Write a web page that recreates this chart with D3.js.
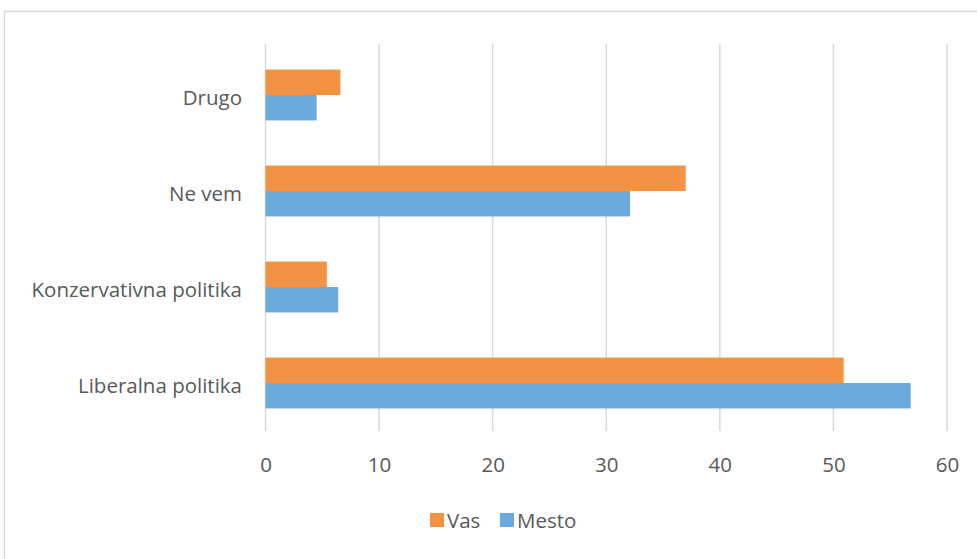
<!DOCTYPE html>
<html><head><meta charset="utf-8">
<script src="https://cdn.jsdelivr.net/npm/d3@7"></script>
<style>body{margin:0;background:#fff}svg{display:block}</style>
</head><body>
<script>
const categories = ["Drugo", "Ne vem", "Konzervativna politika", "Liberalna politika"];
const seriesNames = ["Vas", "Mesto"];
const vasValues = [6.6, 37, 5.4, 50.9];
const mestoValues = [4.5, 32.1, 6.4, 56.8];
const xTicks = [0, 10, 20, 30, 40, 50, 60];
const colors = {Vas: "#F39242", Mesto: "#6AAADC"};

const W = 977, H = 559;
const svg = d3.select("body").append("svg").attr("width", W).attr("height", H);
const font = "'Open Sans', sans-serif";
const fs = 20.5;

svg.append("rect").attr("x", 4.5).attr("y", 11.5).attr("width", W + 10).attr("height", H + 10)
  .attr("fill", "#fff").attr("stroke", "#d9d9d9").attr("stroke-width", 1.5);

const x = d3.scaleLinear().domain([0, 60]).range([265.5, 947]);
const y = d3.scaleBand().domain(categories).range([47, 431]).paddingInner(0.47).paddingOuter(0.235);
const ys = d3.scaleBand().domain(seriesNames).range([0, y.bandwidth()]);

// grid
svg.append("g").selectAll("line").data(xTicks).join("line")
  .attr("x1", d => x(d)).attr("x2", d => x(d)).attr("y1", 44).attr("y2", 431)
  .attr("stroke", "#d9d9d9").attr("stroke-width", 1.5);

const data = categories.map((c, i) => ({cat: c, Vas: vasValues[i], Mesto: mestoValues[i]}));
const g = svg.append("g");
data.forEach(d => {
  seriesNames.forEach(s => {
    g.append("rect").attr("x", x(0)).attr("y", y(d.cat) + ys(s))
      .attr("width", x(d[s]) - x(0)).attr("height", ys.bandwidth())
      .attr("fill", colors[s]);
  });
});

// x axis labels
const xAxis = d3.axisBottom(x).tickValues(xTicks).tickSize(0).tickPadding(0);
const xa = svg.append("g").attr("transform", "translate(0,471.5)").call(xAxis);
xa.select(".domain").remove();
xa.selectAll("text").attr("font-family", font).attr("font-size", fs).attr("fill", "#595959").attr("dy", "0");

// y axis labels
const yAxis = d3.axisLeft(y).tickSize(0).tickPadding(0);
const ya = svg.append("g").attr("transform", "translate(242,0)").call(yAxis);
ya.select(".domain").remove();
ya.selectAll("text").attr("font-family", font).attr("font-size", fs).attr("fill", "#595959").attr("dy", "0.48em");

// legend
const legend = svg.append("g");
const legendItems = [{name: "Vas", x: 430}, {name: "Mesto", x: 500}];
legendItems.forEach(it => {
  legend.append("rect").attr("x", it.x).attr("y", 513).attr("width", 14).attr("height", 14).attr("fill", colors[it.name]);
  legend.append("text").attr("x", it.x + 17).attr("y", 528.3)
    .attr("font-family", font).attr("font-size", fs).attr("fill", "#595959").text(it.name);
});
</script>
</body></html>
